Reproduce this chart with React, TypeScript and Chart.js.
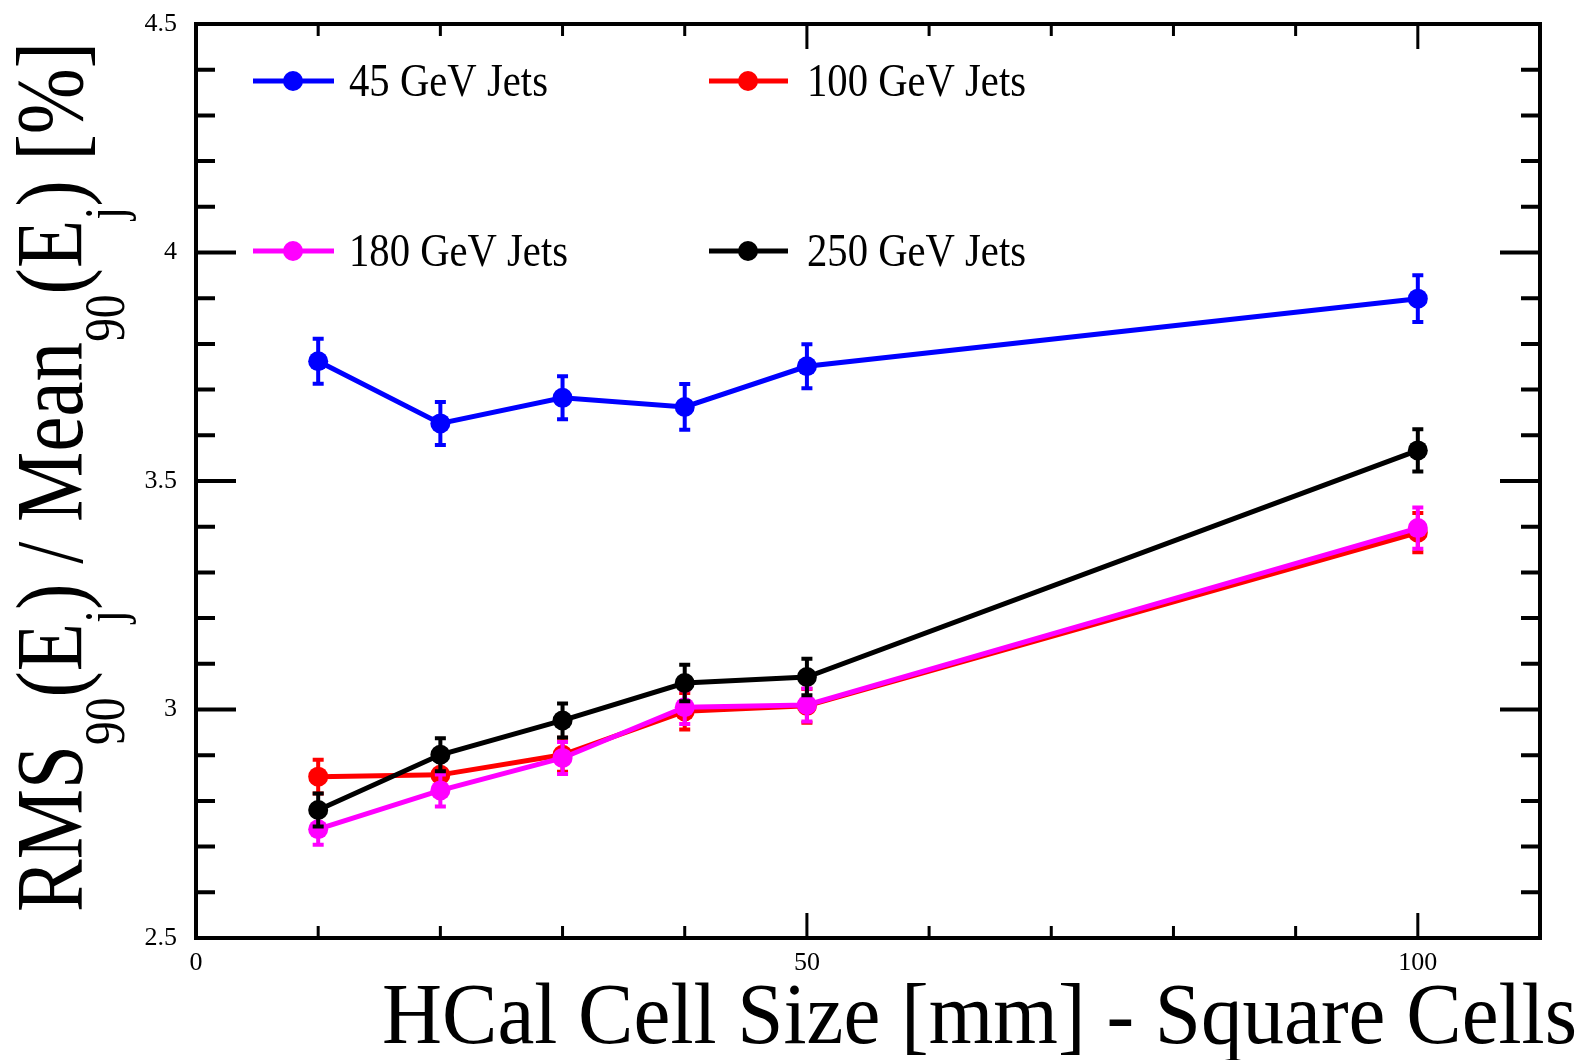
import React, { useEffect, useRef } from "react";
import { Chart, registerables } from "chart.js";

Chart.register(...registerables);

const cellSizes = [10, 20, 30, 40, 50, 100];

const jets45 = [3.762, 3.626, 3.682, 3.662, 3.751, 3.899];
const jets45Err = [0.049, 0.047, 0.047, 0.05, 0.048, 0.051];

const jets100 = [2.853, 2.857, 2.901, 2.996, 3.008, 3.387];
const jets100Err = [0.037, 0.037, 0.037, 0.04, 0.037, 0.043];

const jets180 = [2.738, 2.823, 2.894, 3.005, 3.01, 3.397];
const jets180Err = [0.034, 0.035, 0.035, 0.037, 0.036, 0.045];

const jets250 = [2.78, 2.901, 2.976, 3.058, 3.071, 3.567];
const jets250Err = [0.036, 0.036, 0.037, 0.04, 0.04, 0.046];

const seriesLabels = ["45 GeV Jets", "100 GeV Jets", "180 GeV Jets", "250 GeV Jets"];
const seriesColors = ["#0000ff", "#ff0000", "#ff00ff", "#000000"];

const xTickLabels = [0, 50, 100];
const yMajorTicks = [2.5, 3, 3.5, 4, 4.5];

const xTitle = "HCal Cell Size [mm] - Square Cells";
const yTitleParts: { t: string; sub: boolean }[] = [
  { t: "RMS", sub: false },
  { t: "90", sub: true },
  { t: "(E", sub: false },
  { t: "j", sub: true },
  { t: ") / Mean", sub: false },
  { t: "90", sub: true },
  { t: "(E", sub: false },
  { t: "j", sub: true },
  { t: ") [%]", sub: false },
];

const SERIF = '"Liberation Serif", "Times New Roman", "DejaVu Serif", serif';

const allValues = [jets45, jets100, jets180, jets250];
const allErrors = [jets45Err, jets100Err, jets180Err, jets250Err];

const errorBarPlugin = {
  id: "errorBars",
  afterDatasetDraw(chart: any, args: any) {
    const i = args.index;
    const ds = chart.data.datasets[i];
    const errs = ds.errors as number[];
    if (!errs) return;
    const { ctx, scales } = chart;
    const xs = scales.x;
    const ys = scales.y;
    ctx.save();
    ctx.strokeStyle = ds.borderColor;
    ctx.lineWidth = 4;
    ds.data.forEach((p: any, j: number) => {
      const px = xs.getPixelForValue(p.x);
      const top = ys.getPixelForValue(p.y + errs[j]);
      const bot = ys.getPixelForValue(p.y - errs[j]);
      ctx.beginPath();
      ctx.moveTo(px, top);
      ctx.lineTo(px, bot);
      ctx.moveTo(px - 5.5, top);
      ctx.lineTo(px + 5.5, top);
      ctx.moveTo(px - 5.5, bot);
      ctx.lineTo(px + 5.5, bot);
      ctx.stroke();
    });
    ctx.restore();
  },
};

const framePlugin = {
  id: "frame",
  afterDatasetsDraw(chart: any) {
    const { ctx, chartArea, scales } = chart;
    const { left, right, top, bottom } = chartArea;
    const xs = scales.x;
    const ys = scales.y;
    ctx.save();
    ctx.strokeStyle = "#000";
    ctx.lineCap = "butt";
    // y ticks
    ctx.lineWidth = 4;
    for (let k = 0; k <= 20; k++) {
      const v = 2.5 + k * 0.1;
      const major = k % 5 === 0;
      const len = major ? 40 : 19;
      const py = ys.getPixelForValue(v);
      ctx.beginPath();
      ctx.moveTo(left, py);
      ctx.lineTo(left + len, py);
      ctx.moveTo(right, py);
      ctx.lineTo(right - len, py);
      ctx.stroke();
    }
    // x ticks
    ctx.lineWidth = 3;
    for (let v = 0; v <= 110; v += 10) {
      const major = v % 50 === 0;
      const len = major ? 25 : 12;
      const px = xs.getPixelForValue(v);
      ctx.beginPath();
      ctx.moveTo(px, bottom);
      ctx.lineTo(px, bottom - len);
      ctx.moveTo(px, top);
      ctx.lineTo(px, top + len);
      ctx.stroke();
    }
    ctx.lineWidth = 4;
    ctx.strokeRect(left, top, right - left, bottom - top);
    ctx.restore();
  },
};

const textPlugin = {
  id: "texts",
  afterDraw(chart: any) {
    const { ctx } = chart;
    ctx.save();
    ctx.fillStyle = "#000";

    // Legend (2 x 2)
    const rows = [81, 251];
    const cols = [
      { l0: 253, l1: 334, c: 293, t: 349 },
      { l0: 709, l1: 788, c: 748, t: 807 },
    ];
    ctx.font = `46px ${SERIF}`;
    ctx.textBaseline = "alphabetic";
    ctx.textAlign = "left";
    seriesLabels.forEach((lab, i) => {
      const r = rows[Math.floor(i / 2)];
      const c = cols[i % 2];
      ctx.strokeStyle = seriesColors[i];
      ctx.fillStyle = seriesColors[i];
      ctx.lineWidth = 5;
      ctx.beginPath();
      ctx.moveTo(c.l0, r);
      ctx.lineTo(c.l1, r);
      ctx.stroke();
      ctx.beginPath();
      ctx.arc(c.c, r, 10, 0, Math.PI * 2);
      ctx.fill();
      ctx.fillStyle = "#000";
      const w = ctx.measureText(lab).width;
      const target = i === 0 ? 199 : 219;
      const k = Math.min(1, target / w);
      ctx.save();
      ctx.translate(c.t, r + 15);
      ctx.scale(k, 1);
      ctx.fillText(lab, 0, 0);
      ctx.restore();
    });

    // X title
    ctx.fillStyle = "#000";
    ctx.font = `86px ${SERIF}`;
    const xw = ctx.measureText(xTitle).width;
    const xk = 1195 / xw;
    ctx.save();
    ctx.translate(382, 1043);
    ctx.scale(xk, 1);
    ctx.fillText(xTitle, 0, 0);
    ctx.restore();

    // Y title with subscripts
    const mainFont = `95px ${SERIF}`;
    const subFont = `57px ${SERIF}`;
    let total = 0;
    const widths = yTitleParts.map((p) => {
      ctx.font = p.sub ? subFont : mainFont;
      const w = ctx.measureText(p.t).width;
      total += w;
      return w;
    });
    const yk = 870 / total;
    ctx.save();
    ctx.translate(82, 912);
    ctx.rotate(-Math.PI / 2);
    ctx.scale(yk, 1);
    let pos = 0;
    yTitleParts.forEach((p, i) => {
      ctx.font = p.sub ? subFont : mainFont;
      ctx.fillText(p.t, pos, p.sub ? 42 : 0);
      pos += widths[i];
    });
    ctx.restore();

    ctx.restore();
  },
};

export default function App() {
  const canvasRef = useRef<HTMLCanvasElement | null>(null);

  useEffect(() => {
    const canvas = canvasRef.current;
    if (!canvas) return;
    const orders = [4, 3, 2, 1];
    const chart = new Chart(canvas, {
      type: "line",
      data: {
        datasets: allValues.map((vals, i) => ({
          label: seriesLabels[i],
          data: cellSizes.map((x, j) => ({ x, y: vals[j] })),
          errors: allErrors[i],
          borderColor: seriesColors[i],
          backgroundColor: seriesColors[i],
          pointBackgroundColor: seriesColors[i],
          pointBorderWidth: 0,
          pointRadius: 10,
          borderWidth: 5,
          tension: 0,
          fill: false,
          order: orders[i],
          clip: false,
        })) as any,
      },
      options: {
        animation: false,
        responsive: false,
        maintainAspectRatio: false,
        layout: { padding: { left: 136, right: 48, top: 24, bottom: 72 } },
        plugins: {
          legend: { display: false },
          tooltip: { enabled: false },
          title: { display: false },
        },
        scales: {
          x: {
            type: "linear",
            min: 0,
            max: 110,
            grid: { display: false },
            border: { display: false },
            afterBuildTicks: (s: any) => {
              s.ticks = xTickLabels.map((v) => ({ value: v }));
            },
            afterFit: (s: any) => {
              s.height = 50;
              s.paddingLeft = 0;
              s.paddingRight = 0;
            },
            ticks: {
              color: "#000",
              font: { family: SERIF, size: 26 },
              padding: 2,
              maxRotation: 0,
              autoSkip: false,
              callback: (v: any) => `${v}`,
            },
          },
          y: {
            type: "linear",
            min: 2.5,
            max: 4.5,
            grid: { display: false },
            border: { display: false },
            afterBuildTicks: (s: any) => {
              s.ticks = yMajorTicks.map((v) => ({ value: v }));
            },
            afterFit: (s: any) => {
              s.width = 60;
              s.paddingTop = 0;
              s.paddingBottom = 0;
            },
            ticks: {
              color: "#000",
              font: { family: SERIF, size: 26 },
              padding: 11,
              autoSkip: false,
              callback: (v: any) => `${v}`,
            },
          },
        },
      },
      plugins: [errorBarPlugin, framePlugin, textPlugin],
    });
    return () => chart.destroy();
  }, []);

  return (
    <div style={{ position: "absolute", left: 0, top: 0, width: 1588, height: 1060, background: "#fff" }}>
      <canvas ref={canvasRef} width={1588} height={1060} />
    </div>
  );
}
